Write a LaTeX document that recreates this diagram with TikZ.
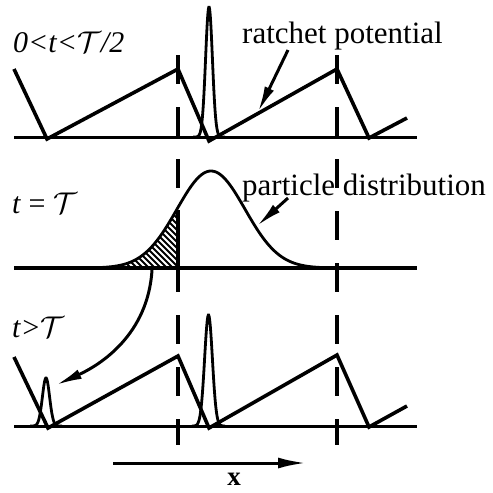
\documentclass[tikz,border=0pt]{standalone}
\usepackage{graphicx}
\usepackage{fontspec}
\setmainfont{Liberation Serif}
\usetikzlibrary{arrows.meta}
\newcommand{\calT}{\scalebox{3.0}{\fontsize{10}{12}\selectfont$\mathcal{T}$}}
\tikzset{
  ratchet/.style={line width=3.6pt, line join=miter},
  base/.style={line width=3pt},
  gauss/.style={line width=2.8pt},
  dashv/.style={line width=3.4pt, dash pattern=on 29pt off 23pt},
  hatch/.style={line width=1.9pt},
  lbl/.style={inner sep=0pt, anchor=base west, font=\fontsize{31}{34}\selectfont},
  tlbl/.style={inner sep=0pt, anchor=base west, font=\fontsize{30}{33}\selectfont},
  arr/.style={line width=3pt, -{Latex[length=26pt,width=10pt]}},
}
\begin{document}
\begin{tikzpicture}[x=1pt,y=-1pt]
\useasboundingbox (0,0) rectangle (493,493);
% dashed verticals
\draw[dashv] (178,55) -- (178,445);
\draw[dashv] (337,55) -- (337,445);
% ---------- top panel
\draw[base] (14,137) -- (417,137);
\draw[ratchet] (14,69) -- (47,139) -- (178,69) -- (209,141) -- (337,69) -- (369,138) -- (407,118);
\draw[gauss] plot[domain=193:225, samples=80] (\x, {137 - 130*exp(-((\x-209)^2)/(2*3.4^2))});
\node[tlbl] (lt1) at (13,52) {\textit{0<t<}\calT\textit{/2}};
\node[lbl] (lrp) at (242,43) {ratchet potential};
\coordinate (rpS) at (288,50);
\coordinate (rpE) at (258,112);
\draw[arr] (rpS) -- (rpE);
% ---------- middle panel
\begin{scope}
  \clip plot[domain=95:178, samples=60] (\x, {268 - 97*exp(-((\x-211)^2)/(2*34^2))}) -- (178,268) -- cycle;
  \foreach \k in {0,...,28} {
    \draw[hatch] ({40+6*\k},195) -- ({115+6*\k},270);
  }
\end{scope}
\draw[line width=3.4pt] (178,210) -- (178,268);
\draw[line width=4pt] (14,268) -- (417,268);
\draw[gauss] plot[domain=90:335, samples=120] (\x, {268 - 97*exp(-((\x-211)^2)/(2*34^2))});
\node[tlbl] (lt2) at (12,213) {\textit{t} = \calT};
\node[lbl] (lpd) at (242,195) {particle distribution};
\coordinate (pdS) at (288,198);
\coordinate (pdE) at (257,226);
\draw[arr] (pdS) -- (pdE);
% curved arrow
\coordinate (cS) at (152,270);
\coordinate (cE) at (56,385);
\draw[arr] (cS) .. controls (148,335) and (100,365) .. (cE);
% ---------- bottom panel
\draw[base] (14,426) -- (417,426);
\draw[ratchet] (14,357) -- (48,428) -- (178,356) -- (209,428) -- (337,355) -- (369,427) -- (407,406);
\draw[gauss] plot[domain=30:62, samples=80] (\x, {426 - 48*exp(-((\x-46)^2)/(2*3.6^2))});
\draw[gauss] plot[domain=192:225, samples=80] (\x, {426 - 111*exp(-((\x-208.5)^2)/(2*3.9^2))});
\node[tlbl] (lt3) at (12,337) {\textit{t>}\calT};
% x axis
\coordinate (xS) at (113,463);
\coordinate (xE) at (306,463);
\draw[line width=3pt, -{Latex[length=28pt,width=11pt]}] (xS) -- (xE);
\node[inner sep=0pt, anchor=base, font=\fontsize{27}{30}\selectfont\bfseries] (lx) at (234,485) {x};
\end{tikzpicture}
\end{document}
